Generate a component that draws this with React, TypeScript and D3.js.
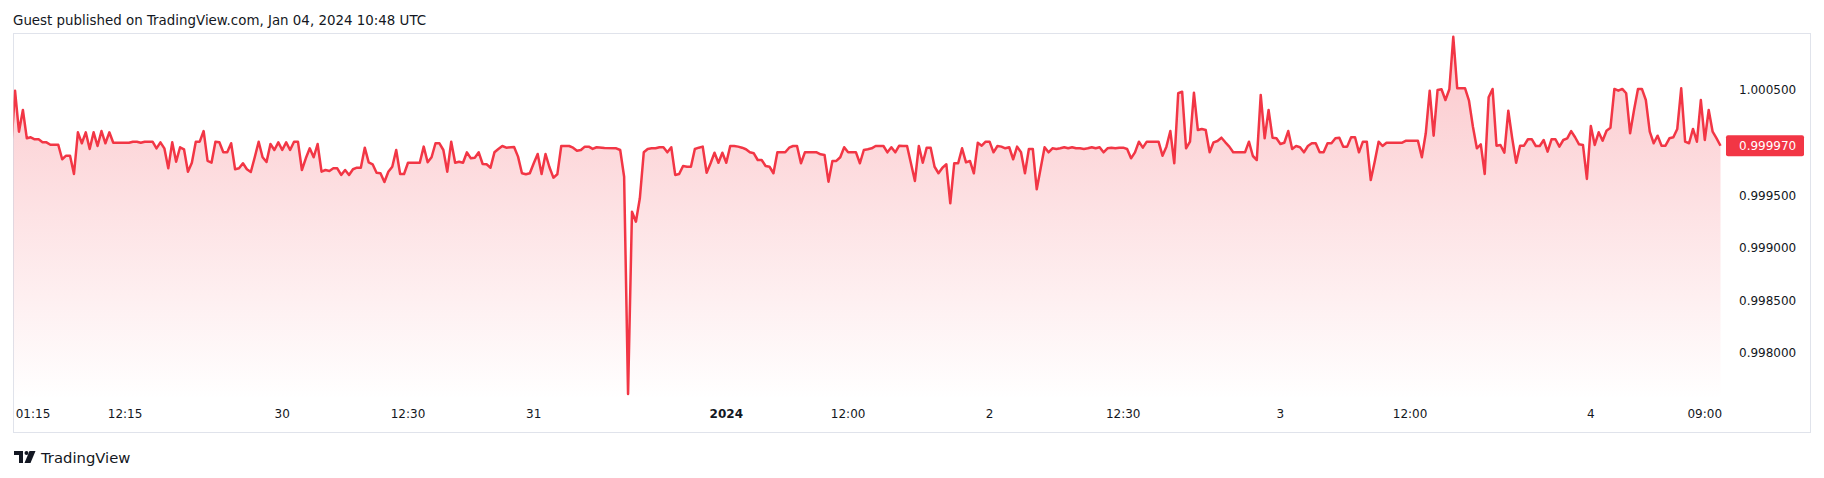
import React from "react";
import * as d3 from "d3";

// [bar index, price] — vertices
const series: [number, number][] = [
  [0, 0.99994], [1, 1.000493], [2, 1.000104], [3, 1.00031], [4, 1.000041], [5, 1.000051], [6, 1.000032], [7, 1.000032],
  [8, 1.000003], [9, 1.000003], [10, 0.99998], [12, 0.99998], [13, 0.999842], [14, 0.999876], [15, 0.999876], [16, 0.999702],
  [17, 1.000098], [18, 0.999994], [19, 1.000098], [20, 0.99994], [21, 1.000098], [22, 0.999968], [23, 1.00011], [24, 0.999994],
  [25, 1.000098], [26, 0.999999], [30, 0.999999], [31, 1.000009], [32, 1.000009], [33, 0.999999], [34, 1.000009], [36, 1.000009],
  [37, 0.999946], [38, 1.000003], [39, 0.999946], [40, 0.999756], [41, 1.000003], [42, 0.999819], [43, 0.999956], [44, 0.999937],
  [45, 0.999724], [46, 0.999809], [47, 1.000009], [48, 1.000009], [49, 1.00011], [50, 0.999826], [51, 0.999809], [52, 1.000009],
  [53, 1.000003], [54, 0.999908], [55, 0.999908], [56, 0.999994], [57, 0.999747], [58, 0.999756], [59, 0.999804], [60, 0.999747],
  [61, 0.999721], [62, 0.999861], [63, 1.000009], [64, 0.999861], [65, 0.999816], [66, 0.999987], [67, 0.99993], [68, 1.000003],
  [69, 0.99993], [70, 1.000003], [71, 0.99993], [72, 1.000009], [73, 1.000009], [74, 0.99974], [75, 0.999851], [76, 0.999946],
  [77, 0.999861], [78, 0.999987], [79, 0.999724], [80, 0.99974], [81, 0.999731], [82, 0.999756], [83, 0.999756], [84, 0.999693],
  [85, 0.99974], [86, 0.999693], [87, 0.999747], [88, 0.999762], [89, 0.999762], [90, 0.999952], [91, 0.999813], [92, 0.999794],
  [93, 0.999714], [94, 0.999709], [95, 0.999626], [96, 0.999724], [97, 0.999771], [98, 0.99993], [99, 0.999702], [100, 0.999702],
  [101, 0.999809], [102, 0.999809], [104, 0.999809], [105, 0.999962], [106, 0.999813], [107, 0.999861], [108, 0.999994], [109, 0.999994],
  [110, 0.99993], [111, 0.999724], [112, 1.000009], [113, 0.999809], [114, 0.999819], [115, 0.999809], [116, 0.999908], [117, 0.999851],
  [118, 0.999857], [119, 0.999908], [120, 0.999797], [121, 0.999794], [122, 0.999762], [123, 0.999908], [124, 0.99994], [125, 0.999968],
  [126, 0.999952], [128, 0.999959], [129, 0.999867], [130, 0.999709], [131, 0.999699], [132, 0.999709], [133, 0.999804], [134, 0.999892],
  [135, 0.999702], [136, 0.999892], [137, 0.999766], [138, 0.999667], [139, 0.999699], [140, 0.999968], [142, 0.999968], [143, 0.999952],
  [144, 0.999923], [145, 0.99993], [146, 0.999962], [147, 0.999962], [148, 0.99994], [149, 0.999956], [151, 0.999949], [154, 0.999946],
  [155, 0.99993], [156, 0.999676], [157, 0.997612], [158, 0.999344], [159, 0.999249], [160, 0.999471], [161, 0.999908], [162, 0.99994],
  [163, 0.999946], [164, 0.999946], [165, 0.999956], [166, 0.999956], [167, 0.999908], [168, 0.999956], [169, 0.999693], [170, 0.999702],
  [171, 0.999778], [172, 0.999771], [173, 0.999771], [174, 0.99994], [175, 0.999952], [176, 0.999962], [177, 0.999714], [178, 0.999804],
  [179, 0.999904], [180, 0.999809], [181, 0.999904], [182, 0.999809], [183, 0.999968], [184, 0.999968], [185, 0.999962], [186, 0.999952],
  [187, 0.999937], [188, 0.999908], [189, 0.999899], [190, 0.999835], [191, 0.999835], [192, 0.999778], [193, 0.999771], [194, 0.999709],
  [195, 0.999908], [197, 0.999908], [198, 0.999952], [199, 0.999968], [200, 0.999968], [201, 0.999804], [202, 0.999908], [205, 0.999908],
  [206, 0.999889], [207, 0.999883], [208, 0.999629], [209, 0.999826], [210, 0.999826], [211, 0.999861], [212, 0.999956], [213, 0.999908],
  [215, 0.999908], [216, 0.999804], [217, 0.99993], [218, 0.999937], [219, 0.999946], [220, 0.999968], [222, 0.999968], [223, 0.999908],
  [224, 0.999956], [225, 0.999908], [226, 0.999971], [227, 0.999968], [228, 0.999968], [230, 0.999636], [231, 0.999968], [232, 0.999809],
  [233, 0.999952], [234, 0.999952], [235, 0.999771], [236, 0.999709], [237, 0.999762], [238, 0.999794], [239, 0.999424], [240, 0.999804],
  [241, 0.999804], [242, 0.999946], [243, 0.999813], [244, 0.999826], [245, 0.999709], [246, 0.999999], [247, 0.999971], [248, 1.000009],
  [249, 1.000009], [250, 0.999908], [251, 0.999968], [252, 0.999962], [253, 0.999946], [254, 0.999956], [255, 0.999842], [256, 0.999962],
  [257, 0.999908], [258, 0.999709], [259, 0.99994], [260, 0.99994], [261, 0.999557], [262, 0.999756], [263, 0.999956], [264, 0.999908],
  [265, 0.999946], [266, 0.99994], [267, 0.999946], [268, 0.999956], [269, 0.999946], [270, 0.999956], [271, 0.999946], [272, 0.999946],
  [273, 0.99994], [274, 0.999946], [275, 0.999956], [276, 0.999946], [277, 0.999956], [278, 0.999908], [279, 0.999946], [280, 0.999952],
  [281, 0.999946], [282, 0.999952], [283, 0.999952], [284, 0.99994], [285, 0.999851], [286, 0.999908], [287, 1.000009], [288, 0.999952],
  [289, 1.000009], [292, 1.000009], [293, 0.999876], [294, 0.999962], [295, 1.00011], [296, 0.999804], [297, 1.000469], [298, 1.000484],
  [299, 0.999946], [300, 1.000009], [301, 1.000474], [302, 1.00012], [303, 1.00013], [304, 1.00012], [305, 0.999908], [306, 1.000003],
  [307, 1.000016], [308, 1.000047], [309, 1.000003], [310, 0.999962], [311, 0.999908], [314, 0.999908], [315, 1.000009], [316, 0.999873],
  [317, 0.999835], [318, 1.000453], [319, 1.000041], [320, 1.00031], [321, 1.000047], [322, 1.000041], [323, 0.999987], [324, 0.999999],
  [325, 1.00011], [326, 0.99994], [327, 0.999968], [328, 0.999956], [329, 0.999908], [330, 0.999968], [331, 0.999994], [332, 0.999994],
  [333, 0.999908], [334, 0.999908], [335, 0.999994], [336, 0.999994], [337, 1.000041], [338, 1.000047], [339, 0.999962], [340, 0.999962],
  [341, 1.000051], [342, 1.000051], [343, 0.999908], [344, 1.000009], [345, 1.000009], [346, 0.999645], [347, 0.999819], [348, 1.000009],
  [349, 0.999968], [350, 0.999999], [354, 0.999999], [355, 1.000018], [358, 1.000018], [359, 0.999861], [360, 1.000089], [361, 1.000493],
  [362, 1.000066], [363, 1.0005], [364, 1.000507], [365, 1.000405], [366, 1.000507], [367, 1.001006], [368, 1.000516], [370, 1.000516],
  [371, 1.000398], [372, 1.000151], [373, 0.999946], [374, 0.999984], [375, 0.999702], [376, 1.000431], [377, 1.00051], [378, 0.999971],
  [379, 0.999978], [380, 0.999904], [381, 1.000303], [382, 1.000041], [383, 0.999809], [384, 0.999971], [385, 0.999971], [386, 1.000032],
  [387, 1.000032], [388, 0.999968], [389, 0.999968], [390, 1.000025], [391, 0.999914], [392, 1.000032], [393, 1.000032], [394, 0.999962],
  [395, 1.000025], [396, 1.000041], [397, 1.00011], [398, 1.000051], [399, 0.999984], [400, 0.999978], [401, 0.999655], [402, 1.000158],
  [403, 0.999978], [404, 1.000098], [405, 1.000018], [406, 1.000113], [407, 1.000142], [408, 1.00051], [409, 1.000493], [410, 1.00051],
  [411, 1.000469], [412, 1.000089], [413, 1.00031], [414, 1.00051], [415, 1.00051], [416, 1.000405], [417, 1.000104], [418, 0.999994],
  [419, 1.000066], [420, 0.999971], [421, 0.999971], [422, 1.000041], [423, 1.000051], [424, 1.00013], [425, 1.000516], [426, 1.000009],
  [427, 0.999994], [428, 1.00013], [429, 1.000009], [430, 1.000405], [431, 1.000025], [432, 1.00031], [433, 1.000104], [434, 1.000041],
  [435, 0.99997],
];

const priceTicks = [1.0005, 0.9995, 0.999, 0.9985, 0.998];
const priceDomain = [0.997555, 1.001032];
const lastPrice = 0.99997;

const timeTicks: { bar: number; label: string; bold?: boolean }[] = [
  { bar: 0, label: "01:15" },
  { bar: 29, label: "12:15" },
  { bar: 69, label: "30" },
  { bar: 101, label: "12:30" },
  { bar: 133, label: "31" },
  { bar: 182, label: "2024", bold: true },
  { bar: 213, label: "12:00" },
  { bar: 249, label: "2" },
  { bar: 283, label: "12:30" },
  { bar: 323, label: "3" },
  { bar: 356, label: "12:00" },
  { bar: 402, label: "4" },
  { bar: 431, label: "09:00" },
];

const headerText = "Guest published on TradingView.com, Jan 04, 2024 10:48 UTC";

const W = 1824;
const H = 478;
const plot = { left: 13.5, right: 1725, top: 34, bottom: 400 };
const FONT = "'DejaVu Sans', sans-serif";
const RED = "#F23645";
const TEXT = "#131722";

export default function App() {
  const lastBar = series[series.length - 1][0];
  const x = d3.scaleLinear().domain([0, lastBar]).range([11.1, 1720.5]);
  const y = d3.scaleLinear().domain(priceDomain).range([plot.bottom, plot.top]);
  const line = d3
    .line<[number, number]>()
    .x((d) => x(d[0]))
    .y((d) => y(d[1]));
  const area = d3
    .area<[number, number]>()
    .x((d) => x(d[0]))
    .y0(plot.bottom)
    .y1((d) => y(d[1]));
  const fmt = d3.format(".6f");
  const ly = y(lastPrice);

  return (
    <svg
      width={W}
      height={H}
      style={{ position: "absolute", left: 0, top: 0, background: "#fff" }}
      fontFamily={FONT}
    >
      <defs>
        <linearGradient id="areaGrad" gradientUnits="userSpaceOnUse" x1="0" y1={plot.top} x2="0" y2={plot.bottom}>
          <stop offset="0" stopColor={RED} stopOpacity={0.28} />
          <stop offset="1" stopColor={RED} stopOpacity={0.0} />
        </linearGradient>
        <clipPath id="plotClip">
          <rect x={plot.left} y={plot.top} width={plot.right - plot.left} height={plot.bottom - plot.top} />
        </clipPath>
      </defs>
      <rect x={0} y={0} width={W} height={H} fill="#fff" />
      <text x={13} y={24.5} fontSize={13.4} fill={TEXT}>
        {headerText}
      </text>
      <rect x={13.5} y={33.5} width={1797} height={399} fill="none" stroke="#e0e3eb" strokeWidth={1} />
      <g clipPath="url(#plotClip)">
        <path d={area(series) ?? ""} fill="url(#areaGrad)" />
        <path d={line(series) ?? ""} fill="none" stroke={RED} strokeWidth={2.5} strokeLinejoin="round" />
      </g>
      {priceTicks.map((p) => (
        <text key={p} x={1739} y={y(p) + 4.3} fontSize={12} fill={TEXT}>
          {fmt(p)}
        </text>
      ))}
      <rect x={1726} y={ly - 10.5} width={78} height={21} rx={2} fill={RED} />
      <text x={1739} y={ly + 4.3} fontSize={12} fill="#fff">
        {fmt(lastPrice)}
      </text>
      {timeTicks.map((t, i) => {
        const cx = x(t.bar);
        const halfW = t.label.length * 3.5;
        const px = Math.max(cx, plot.left + 2 + halfW);
        return (
          <text
            key={i}
            x={px}
            y={418}
            fontSize={12}
            textAnchor="middle"
            fill={TEXT}
            fontWeight={t.bold ? "bold" : "normal"}
          >
            {t.label}
          </text>
        );
      })}
      <g transform="translate(14,451)" fill={TEXT}>
        <path d="M0 0 H9 V12 H5 V4 H0 Z" />
        <circle cx={12.5} cy={2} r={2} />
        <path d="M15.5 0 H21.5 L16.5 12 H10.5 Z" />
      </g>
      <text x={41} y={462.5} fontSize={14.8} fill={TEXT}>
        TradingView
      </text>
    </svg>
  );
}
